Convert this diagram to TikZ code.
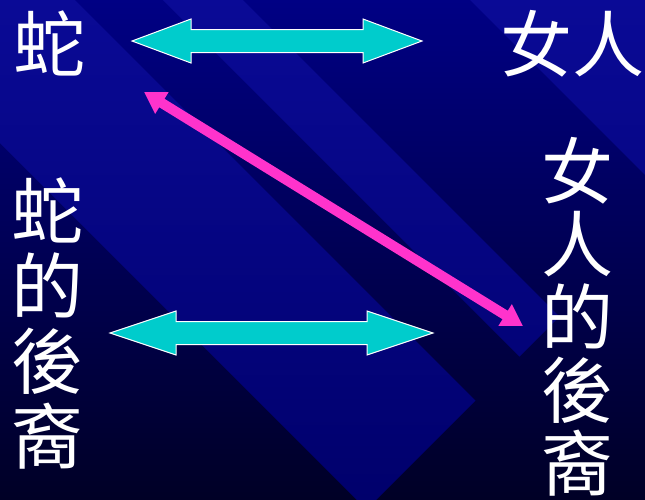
\documentclass[tikz,border=0pt]{standalone}
\usepackage{fontspec}
\newfontfamily\cjkfont{Noto Sans CJK TC}
\usetikzlibrary{calc,arrows.meta}
\definecolor{bgtop}{RGB}{0,0,132}
\definecolor{bgbot}{RGB}{0,0,38}
\definecolor{bandtop}{RGB}{10,10,150}
\definecolor{bandbot}{RGB}{0,0,108}
\definecolor{arrowcyan}{RGB}{0,204,204}
\definecolor{arrowpink}{RGB}{255,51,204}
% block arrow: left tip, right tip, head length
\newcommand{\blockarrow}[3]{%
	\draw [blockarrow] (#1) -- ($(#1)+(#3,-22)$) -- ($(#1)+(#3,-11.5)$)
		-- ($(#2)+(-#3,-11.5)$) -- ($(#2)+(-#3,-22)$) -- (#2)
		-- ($(#2)+(-#3,22)$) -- ($(#2)+(-#3,11.5)$)
		-- ($(#1)+(#3,11.5)$) -- ($(#1)+(#3,22)$) -- cycle;}

\begin{document}
\begin{tikzpicture}[
		x = 1pt,
		y = -1pt,
		word/.style = {
			text = white,
			inner sep = 0pt,
			font = \cjkfont\fontsize{72}{75}\selectfont,
		},
		column/.style = {
			word,
			align = center,
			anchor = north,
		},
		blockarrow/.style = {
			draw = white,
			line width = 1pt,
			fill = arrowcyan,
			line join = miter,
		},
		pinkarrow/.style = {
			draw = arrowpink,
			line width = 10pt,
			{Triangle[length = 21pt, width = 24pt]}-{Triangle[length = 21pt, width = 24pt]},
		}
	]
	\useasboundingbox (0,0) rectangle (645,499);

	% background
	\shade [top color = bgtop, bottom color = bgbot] (0,0) rectangle (645,499);
	\begin{scope}
		\clip (0,0) -- (75,0) -- (475.5,400.5) -- (366.5,509.5) -- (0,143) -- cycle;
		\shade [top color = bandtop, bottom color = bandbot] (0,0) rectangle (645,499);
	\end{scope}
	\begin{scope}
		\clip (163,0) -- (243,0) -- (559.5,316.5) -- (519.5,356.5) -- cycle;
		\shade [top color = bandtop, bottom color = bandbot] (0,0) rectangle (645,499);
	\end{scope}
	\begin{scope}
		\clip (470,0) -- (645,0) -- (645,175) -- cycle;
		\shade [top color = bandtop, bottom color = bandbot] (0,0) rectangle (645,499);
	\end{scope}

	% words
	\node [word, anchor = base west] (snake) at (13,71) {蛇};
	\node [word, anchor = base west] (woman) at (500,71) {女人};
	\node [column] (snakeSeed) at (47.5,178) {蛇\\的\\後\\裔};
	\node [column, font = \cjkfont\fontsize{72}{73}\selectfont] (womanSeed) at (577.5,137) {女\\人\\的\\後\\裔};

	% arrows
	\coordinate (topLeft) at (132,41);
	\coordinate (topRight) at (422,41);
	\coordinate (lowLeft) at (110,333);
	\coordinate (lowRight) at (433,333);
	\coordinate (pinkTop) at (144,92);
	\coordinate (pinkLow) at (523,326);

	\blockarrow{topLeft}{topRight}{59}
	\blockarrow{lowLeft}{lowRight}{66}
	\draw [pinkarrow] (pinkTop) -- (pinkLow);
\end{tikzpicture}
\end{document}
